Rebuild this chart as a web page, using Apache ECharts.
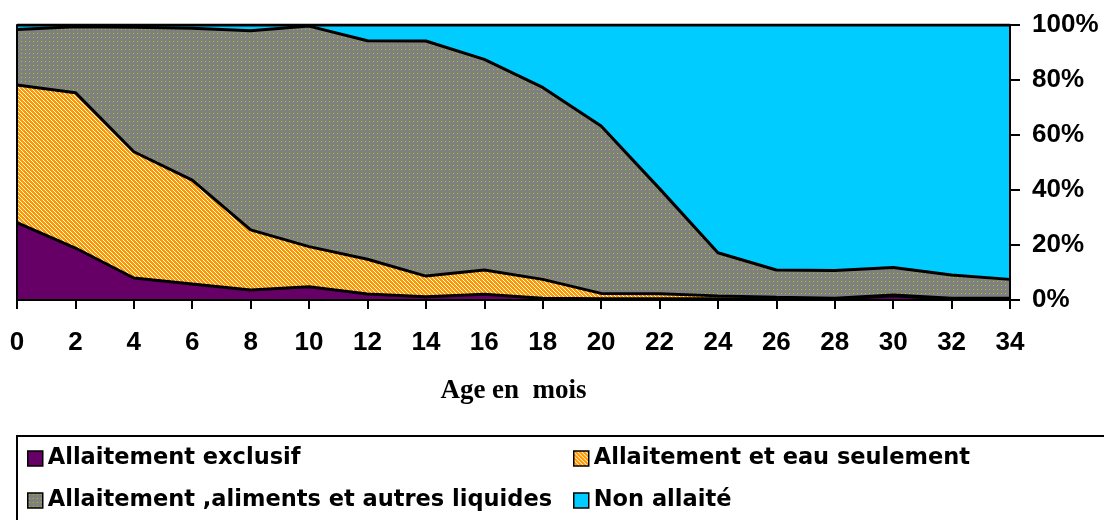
<!DOCTYPE html>
<html lang="fr">
<head>
    <meta charset="UTF-8">
    <title>Allaitement selon l'age</title>
    <style>
        html, body { margin: 0; padding: 0; background: #fff; }
        #main { width: 1104px; height: 520px; }
    </style>
</head>
<body>
    <div id="main"></div>
    <script src="https://cdn.jsdelivr.net/npm/echarts@6/dist/echarts.min.js"></script>
    <script>
        // données (en %)
        var ages = ['0', '2', '4', '6', '8', '10', '12', '14', '16', '18', '20', '22', '24', '26', '28', '30', '32', '34'];
        var exclusif = [28.1, 18.9, 8.0, 5.8, 3.6, 4.8, 2.2, 1.2, 2.1, 0.6, 0.5, 0.5, 0.5, 0.4, 0.3, 1.5, 0.3, 0.3];
        var eauSeulement = [50.1, 56.5, 45.9, 37.8, 21.9, 14.6, 12.6, 7.5, 8.8, 6.9, 1.9, 1.8, 1.0, 0.6, 0.3, 0.3, 0.3, 0.3];
        var alimentsLiquides = [20.2, 24.0, 45.3, 55.2, 72.4, 80.2, 79.5, 85.5, 76.6, 69.8, 60.9, 38.2, 15.7, 9.9, 10.1, 10.0, 8.5, 6.9];
        var nonAllaite = [1.6, 0.6, 0.8, 1.2, 2.1, 0.4, 5.7, 5.8, 12.5, 22.7, 36.7, 59.5, 82.8, 89.1, 89.3, 88.2, 90.9, 92.5];
        var noms = ['Allaitement exclusif', 'Allaitement et eau seulement', 'Allaitement ,aliments et autres liquides', 'Non allaité'];
        var yTicks = [0, 20, 40, 60, 80, 100];

        // motif hachuré orange
        function hachures() {
            var c = document.createElement('canvas');
            c.width = 4; c.height = 4;
            var ctx = c.getContext('2d');
            ctx.fillStyle = '#ffffff';
            ctx.fillRect(0, 0, 4, 4);
            ctx.fillStyle = '#ff9900';
            for (var i = 0; i < 4; i++) {
                for (var j = 0; j < 4; j++) {
                    var d = ((i - j) % 4 + 4) % 4;
                    if (d !== 3) ctx.fillRect(i, j, 1, 1);
                }
            }
            return { image: c, repeat: 'repeat' };
        }
        // motif gris à points verts
        function points() {
            var c = document.createElement('canvas');
            c.width = 4; c.height = 4;
            var ctx = c.getContext('2d');
            ctx.fillStyle = '#808080';
            ctx.fillRect(0, 0, 4, 4);
            ctx.fillStyle = '#a2d000';
            ctx.fillRect(1, 1, 1, 1);
            return { image: c, repeat: 'repeat' };
        }

        var couleurs = ['#660066', hachures(), points(), '#00ccff'];
        var valeurs = [exclusif, eauSeulement, alimentsLiquides, nonAllaite];

        var series = [];
        for (var k = 0; k < 4; k++) {
            series.push({
                name: noms[k],
                type: 'line',
                stack: 'total',
                data: valeurs[k],
                symbol: 'none',
                z: 10 - k,
                lineStyle: { color: '#000', width: 3 },
                itemStyle: { color: couleurs[k] },
                areaStyle: { color: couleurs[k], opacity: 1 },
                emphasis: { disabled: true }
            });
        }

        var texteLegende = { fontFamily: 'DejaVu Sans', fontWeight: 'bold', fontSize: 22.5, color: '#000' };
        function legende(left, idx) {
            return {
                left: left,
                top: 447,
                orient: 'vertical',
                padding: 0,
                itemGap: 19,
                itemWidth: 15,
                itemHeight: 15,
                itemTextGap: 13,
                icon: 'rect',
                selectedMode: false,
                textStyle: texteLegende,
                data: idx.map(function (i) {
                    return { name: noms[i], itemStyle: { color: couleurs[i], borderColor: '#000', borderWidth: 1.5 } };
                })
            };
        }

        var myChart = echarts.init(document.getElementById('main'));
        var option = {
            animation: false,
            backgroundColor: '#fff',
            grid: { left: 17, right: 94, top: 25, bottom: 220 },
            legend: [legende(27, [0, 2]), legende(573, [1, 3])],
            xAxis: {
                type: 'category',
                data: ages,
                boundaryGap: false,
                z: 20,
                name: 'Age en  mois',
                nameLocation: 'middle',
                nameGap: 78,
                nameTextStyle: { fontFamily: 'Liberation Serif', fontWeight: 'bold', fontSize: 27, color: '#000' },
                axisLine: { lineStyle: { color: '#000', width: 2 } },
                axisTick: { length: 9, interval: 0, lineStyle: { color: '#000', width: 2 } },
                axisLabel: { interval: 0, margin: 30, fontFamily: 'Liberation Sans', fontWeight: 'bold', fontSize: 26, color: '#000' },
                splitLine: { show: false }
            },
            yAxis: [
                {
                    type: 'value',
                    position: 'right',
                    min: yTicks[0],
                    max: yTicks[yTicks.length - 1],
                    interval: 20,
                    z: 20,
                    axisLine: { show: true, lineStyle: { color: '#000', width: 2 } },
                    axisTick: { show: true, length: 10, lineStyle: { color: '#000', width: 2 } },
                    axisLabel: { margin: 22, formatter: '{value}%', fontFamily: 'Liberation Sans', fontWeight: 'bold', fontSize: 26, color: '#000' },
                    splitLine: { show: false }
                },
                {
                    type: 'value',
                    position: 'left',
                    min: 0,
                    max: 100,
                    z: 20,
                    axisLine: { show: true, lineStyle: { color: '#000', width: 2 } },
                    axisTick: { show: false },
                    axisLabel: { show: false },
                    splitLine: { show: false }
                }
            ],
            graphic: [{
                type: 'rect',
                shape: { x: 17, y: 436, width: 1200, height: 200 },
                style: { fill: null, stroke: '#000', lineWidth: 2 },
                silent: true
            }],
            series: series
        };
        myChart.setOption(option);
    </script>
</body>
</html>
